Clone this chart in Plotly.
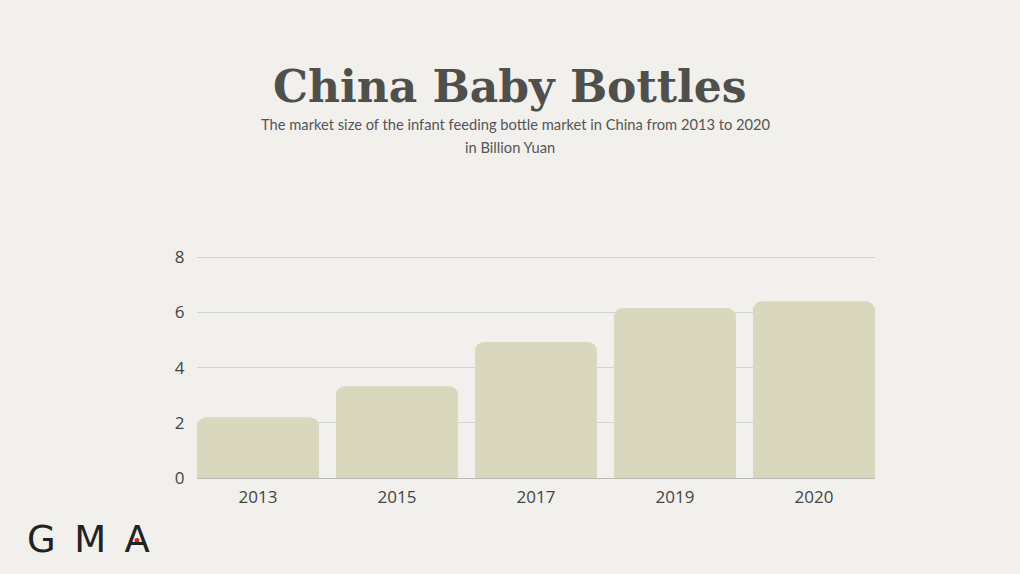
import plotly.graph_objects as go

years = ["2013", "2015", "2017", "2019", "2020"]
market_size = [2.2, 3.33, 4.93, 6.16, 6.41]
y_ticks = [0, 2, 4, 6, 8]

bg = "#f1f0ec"
bar_color = "#d9d8bf"

BARGAP = 0.122
YMAX = 8.05

# plot area in page pixels
L, R, B = 197, 875, 478
T = B - (B - 257) * YMAX / 8

def px(pixel_x):
    return (pixel_x - L) / (R - L)

def py(pixel_y):
    return (B - pixel_y) / (B - T)

fig = go.Figure()
fig.add_trace(go.Bar(
    x=years, y=market_size,
    marker=dict(color=bar_color, line=dict(width=0)),
    hoverinfo="x+y",
))

fig.update_layout(
    width=1020, height=574,
    paper_bgcolor=bg, plot_bgcolor=bg,
    margin=dict(l=L, r=1020 - R, t=T, b=574 - B, pad=0),
    bargap=BARGAP,
    barcornerradius=9,
    showlegend=False,
    xaxis=dict(
        type="category",
        range=[-0.5 + BARGAP / 2, len(years) - 0.5 - BARGAP / 2],
        tickfont=dict(family="Open Sans", size=17, color="#444444"),
        showgrid=False, showline=False, ticks="outside",
        ticklen=4, tickcolor=bg,
    ),
    yaxis=dict(
        range=[0, YMAX], tickvals=y_ticks,
        tickfont=dict(family="Open Sans", size=17, color="#444444"),
        showgrid=True, gridcolor="#d2d2cc", gridwidth=1,
        zeroline=True, zerolinecolor="#b9b9b3", zerolinewidth=1,
        showline=False, ticks="outside", ticklen=8, tickcolor=bg,
    ),
    font=dict(family="Open Sans"),
)

fig.add_annotation(
    text="<b>China Baby Bottles</b>", x=px(510), y=py(86), xref="paper", yref="paper",
    showarrow=False, xanchor="center", yanchor="middle",
    font=dict(family="DejaVu Serif", size=44, color="#4f4f4b"),
)
fig.add_annotation(
    text="The market size of the infant feeding bottle market in China from 2013 to 2020",
    x=px(516), y=py(123), xref="paper", yref="paper",
    showarrow=False, xanchor="center", yanchor="middle",
    font=dict(family="Lato", size=14.7, color="#555555"),
)
fig.add_annotation(
    text="in Billion Yuan",
    x=px(510), y=py(146), xref="paper", yref="paper",
    showarrow=False, xanchor="center", yanchor="middle",
    font=dict(family="Lato", size=14.7, color="#555555"),
)
# GMA logo
fig.add_annotation(
    text="G\u2002M\u2002A",
    x=px(88), y=py(540), xref="paper", yref="paper",
    showarrow=False, xanchor="center", yanchor="middle",
    font=dict(family="DejaVu Sans", size=37, color="#222222"),
)
fig.add_shape(
    type="circle", xref="paper", yref="paper", layer="above",
    x0=px(134.5), x1=px(139.5), y0=py(543), y1=py(538),
    fillcolor="#d8202a", line=dict(width=0),
)

fig.write_html("out.html", config={"displayModeBar": False},
               post_script="document.body.style.margin='0';")
